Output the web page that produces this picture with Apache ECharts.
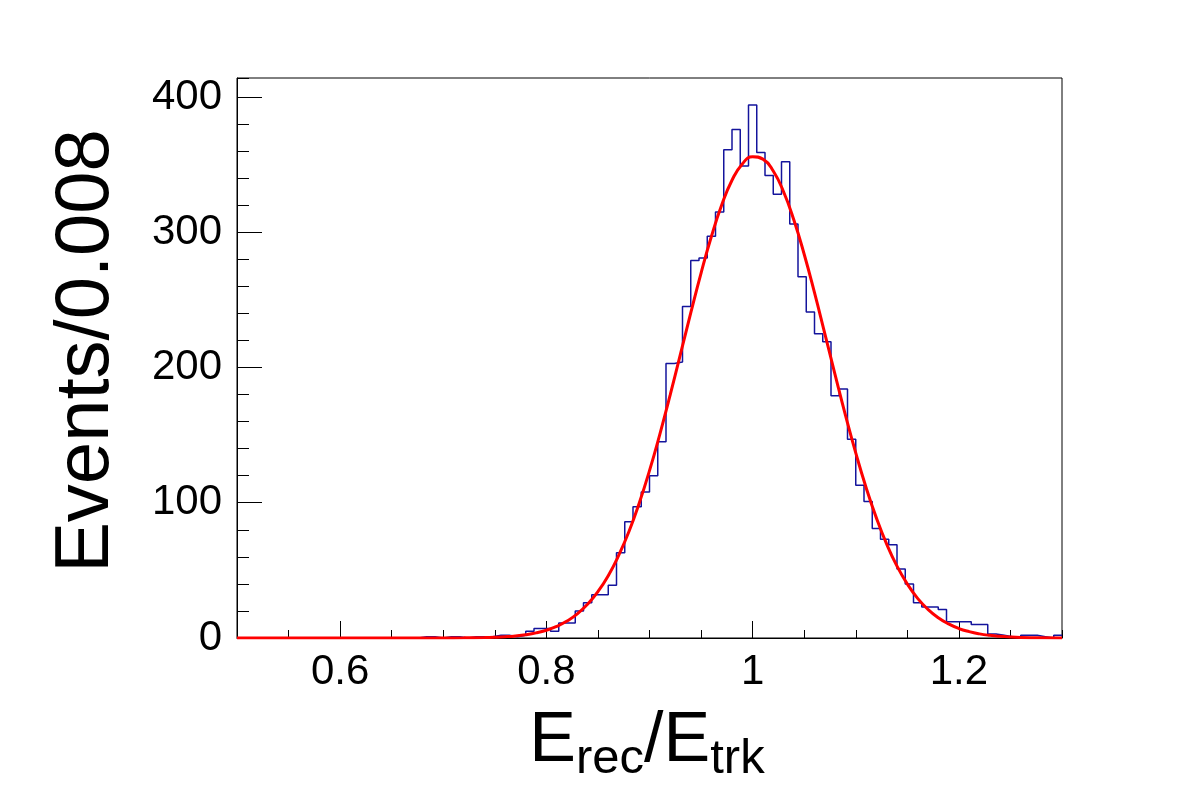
<!DOCTYPE html>
<html>
<head>
<meta charset="utf-8">
<script src="https://cdn.jsdelivr.net/npm/echarts@6/dist/echarts.min.js"></script>
<style>
  html, body { margin: 0; padding: 0; background: #fff; }
  #chart { width: 1182px; height: 800px; }
</style>
</head>
<body>
<div id="chart"></div>
<script>
// histogram: 100 bins of 0.008 from 0.5 to 1.3
var binLow = 0.5;
var binWidth = 0.008;
var counts = [
  0, 0, 0, 0, 0, 0, 0, 0, 0, 0,
  0, 0, 0, 0, 0, 0, 0, 0, 0, 0,
  0, 0, 1, 1, 0, 1, 1, 0, 1, 1,
  1, 2, 2, 1, 2, 5, 7, 7, 5, 11,
  11, 20, 26, 32, 32, 39, 63, 86, 97, 108,
  120, 145, 203, 204, 245, 279, 281, 297, 315, 361,
  376, 349, 394, 359, 342, 328, 352, 306, 267, 241,
  225, 219, 179, 184, 147, 113, 101, 81, 73, 69,
  51, 40, 26, 23, 23, 21, 12, 12, 12, 10,
  10, 3, 2, 1, 0, 2, 2, 1, 0, 2
];

// gaussian fit curve
var fitX = [0.5, 0.6, 0.7, 0.72,
  0.74, 0.75, 0.76, 0.77, 0.78, 0.79, 0.80, 0.81, 0.82, 0.83, 0.84, 0.85, 0.86, 0.87, 0.88, 0.89,
  0.90, 0.91, 0.92, 0.93, 0.94, 0.95, 0.96, 0.97, 0.98, 0.99, 1.00, 1.01, 1.02, 1.03, 1.04, 1.05,
  1.06, 1.07, 1.08, 1.09, 1.10, 1.11, 1.12, 1.13, 1.14, 1.15, 1.16, 1.17, 1.18, 1.19, 1.20, 1.21,
  1.22, 1.23, 1.24, 1.25, 1.26, 1.28, 1.30];
var fitY = [0, 0, 0.04, 0.13,
  0.35, 0.58, 0.96, 1.55, 2.45, 3.79, 5.75, 8.56, 12.5, 17.8, 25.0, 34.3, 46.1, 60.9, 78.6, 99.6,
  123.7, 150.6, 179.5, 209.8, 240.3, 269.8, 296.8, 320.1, 338.4, 350.5, 355.8, 354.0, 345.2, 329.9, 309.0, 283.7,
  255.3, 225.1, 194.6, 164.8, 136.8, 111.3, 88.8, 69.4, 53.1, 39.9, 29.3, 21.2, 15.0, 10.4, 7.0, 4.7,
  3.05, 1.95, 1.22, 0.75, 0.45, 0.15, 0.05];

var xMajor = [0.6, 0.8, 1.0, 1.2];
var yMajor = [0, 100, 200, 300, 400];

var FONT = 'Liberation Sans';

var histData = [];
for (var i = 0; i < counts.length; i++) {
  histData.push([binLow + i * binWidth, counts[i]]);
}
histData.push([binLow + counts.length * binWidth, counts[counts.length - 1]]);

var fitData = fitX.map(function (x, i) { return [x, fitY[i]]; });

var chart = echarts.init(document.getElementById('chart'));
chart.setOption({
  animation: false,
  backgroundColor: '#fff',
  grid: {
    left: 237, top: 78, width: 825, height: 560,
    show: true, borderColor: '#000', borderWidth: 1,
    outerBoundsMode: 'none'
  },
  xAxis: [
    {
      type: 'value', min: 0.5, max: 1.3, interval: 0.05,
      axisLine: { show: true, onZero: false, lineStyle: { color: '#000', width: 1 } },
      axisTick: { show: true, inside: true, length: 8, lineStyle: { color: '#000', width: 1 } },
      axisLabel: { show: false },
      splitLine: { show: false }
    },
    {
      type: 'value', min: 0.5, max: 1.3, position: 'bottom',
      axisLine: { show: false, onZero: false },
      axisTick: { show: true, inside: true, length: 17, customValues: xMajor, lineStyle: { color: '#000', width: 1 } },
      axisLabel: {
        show: true, customValues: xMajor, margin: 13,
        color: '#000', fontSize: 42, fontFamily: FONT,
        formatter: function (v) { return String(+v.toFixed(2)); }
      },
      splitLine: { show: false }
    }
  ],
  yAxis: [
    {
      type: 'value', min: 0, max: 414, interval: 20,
      axisLine: { show: true, onZero: false, lineStyle: { color: '#000', width: 1 } },
      axisTick: { show: true, inside: true, length: 12, lineStyle: { color: '#000', width: 1 } },
      axisLabel: { show: false },
      splitLine: { show: false }
    },
    {
      type: 'value', min: 0, max: 414, position: 'left',
      axisLine: { show: false, onZero: false },
      axisTick: { show: true, inside: true, length: 25, customValues: yMajor, lineStyle: { color: '#000', width: 1 } },
      axisLabel: {
        show: true, customValues: yMajor, margin: 15,
        color: '#000', fontSize: 42, fontFamily: FONT
      },
      splitLine: { show: false }
    }
  ],
  graphic: [
    {
      type: 'text', x: 87, y: 351, rotation: Math.PI / 2,
      style: {
        text: 'Events/0.008', fill: '#000',
        font: '76px "Liberation Sans"', align: 'center', verticalAlign: 'middle'
      }
    },
    {
      type: 'text', x: 647, y: 742,
      style: {
        text: '{m|E}{s|rec}{m|/E}{s|trk}', fill: '#000',
        align: 'center', verticalAlign: 'middle',
        rich: {
          m: { fontSize: 70, fontFamily: FONT, fill: '#000' },
          s: { fontSize: 49, fontFamily: FONT, fill: '#000', padding: [34, 0, 0, 0] }
        }
      }
    }
  ],
  series: [
    {
      name: 'hist', type: 'line', step: 'end',
      xAxisIndex: 0, yAxisIndex: 0,
      data: histData, showSymbol: false, symbol: 'none',
      lineStyle: { color: '#14149c', width: 1.5 },
      z: 2
    },
    {
      name: 'fit', type: 'line', smooth: true,
      xAxisIndex: 0, yAxisIndex: 0,
      data: fitData, showSymbol: false, symbol: 'none',
      lineStyle: { color: '#ff0000', width: 3 },
      z: 3
    }
  ]
});
</script>
</body>
</html>
